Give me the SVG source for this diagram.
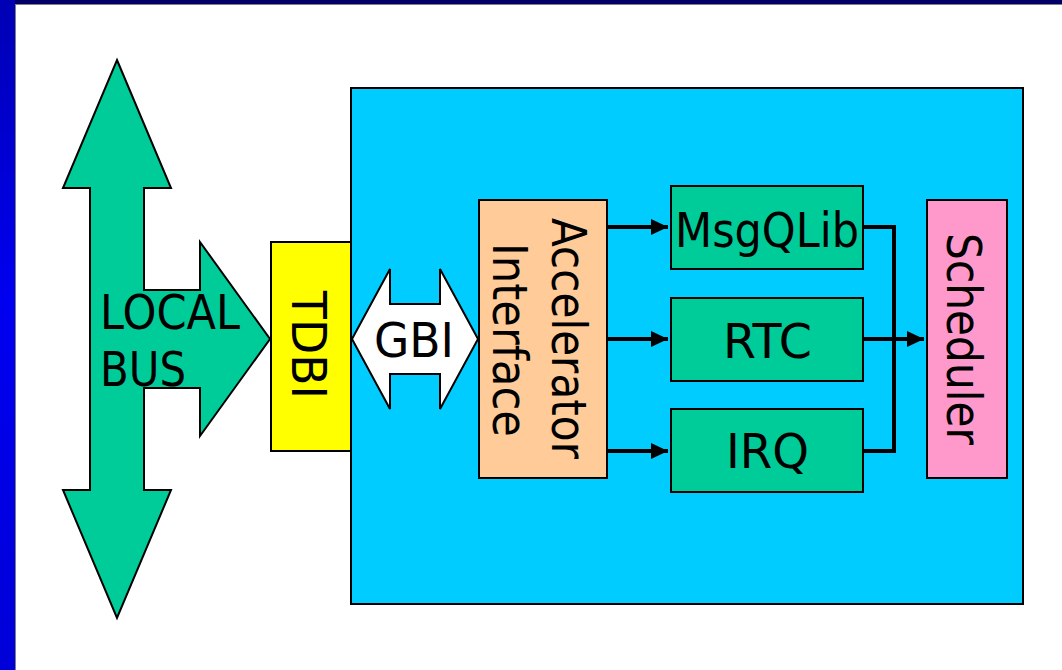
<svg xmlns="http://www.w3.org/2000/svg" width="1062" height="670" viewBox="0 0 1062 670">
<defs>
<linearGradient id="lb" x1="0" y1="0" x2="0" y2="1">
<stop offset="0" stop-color="#0000b4"/>
<stop offset="0.45" stop-color="#0000f0"/>
<stop offset="1" stop-color="#0000d8"/>
</linearGradient>
<marker id="ah" markerUnits="userSpaceOnUse" markerWidth="18" markerHeight="18" viewBox="0 0 18 18" refX="17" refY="9" orient="auto">
<path d="M0,1 L17,9 L0,17 Z" fill="#000"/>
</marker>
<style>
.lbl{font-family:"DejaVu Sans","Liberation Sans",sans-serif;font-size:48px;fill:#000}
.box{stroke:#000;stroke-width:2}
.shape{stroke:#000;stroke-width:2;stroke-linejoin:miter}
.conn{fill:none;stroke:#000;stroke-width:4}
</style>
</defs>
<rect x="0" y="0" width="1062" height="670" fill="#fff"/>
<rect x="0" y="0" width="1062" height="4" fill="#000066"/>
<rect x="0" y="0" width="15" height="670" fill="url(#lb)"/>
<line x1="15" y1="4.5" x2="1062" y2="4.5" stroke="#808080" stroke-width="1"/>
<line x1="15.5" y1="4.5" x2="15.5" y2="670" stroke="#808080" stroke-width="1"/>

<g id="fpga">
<rect class="box" x="351" y="88" width="672" height="516" fill="#00ccff"/>
</g>

<g id="local-bus">
<polygon class="shape" fill="#00cc99" points="117,60 171,188 144,188 144,290 200,290 200,242 270,339 200,436 200,388 144,388 144,490 171,490 117,618 63,490 90,490 90,188 63,188"/>
<text class="lbl" x="100" y="329" textLength="140" lengthAdjust="spacingAndGlyphs">LOCAL</text>
<text class="lbl" x="100" y="385.5" textLength="86" lengthAdjust="spacingAndGlyphs">BUS</text>
</g>

<g id="tdbi">
<rect class="box" x="271" y="242" width="80" height="209" fill="#ffff00"/>
<text class="lbl" text-anchor="middle" transform="translate(292,345) rotate(90)" textLength="108" lengthAdjust="spacingAndGlyphs">TDBI</text>
</g>

<g id="gbi">
<polygon class="shape" fill="#fff" points="352,339 390,269 390,304 440,304 440,269 478,339 440,409 440,374 390,374 390,409"/>
<text class="lbl" x="414" y="357" text-anchor="middle" textLength="80" lengthAdjust="spacingAndGlyphs">GBI</text>
</g>

<g id="accelerator-interface">
<rect class="box" x="479" y="200" width="128" height="278" fill="#ffcc99"/>
<text class="lbl" text-anchor="middle" transform="translate(552,338.5) rotate(90)" textLength="241" lengthAdjust="spacingAndGlyphs">Accelerator</text>
<text class="lbl" text-anchor="middle" transform="translate(493,340) rotate(90)" textLength="194" lengthAdjust="spacingAndGlyphs">Interface</text>
</g>

<g id="msgqlib">
<rect class="box" x="671" y="186" width="192" height="83" fill="#00cc99"/>
<text class="lbl" x="767" y="246.5" text-anchor="middle" textLength="184" lengthAdjust="spacingAndGlyphs">MsgQLib</text>
</g>

<g id="rtc">
<rect class="box" x="671" y="298" width="192" height="83" fill="#00cc99"/>
<text class="lbl" x="767.5" y="358" text-anchor="middle" textLength="89" lengthAdjust="spacingAndGlyphs">RTC</text>
</g>

<g id="irq">
<rect class="box" x="671" y="409" width="192" height="83" fill="#00cc99"/>
<text class="lbl" x="767.5" y="468" text-anchor="middle" textLength="83" lengthAdjust="spacingAndGlyphs">IRQ</text>
</g>

<g id="scheduler">
<rect class="box" x="927" y="200" width="80" height="278" fill="#ff99cc"/>
<text class="lbl" text-anchor="middle" transform="translate(947,339) rotate(90)" textLength="212" lengthAdjust="spacingAndGlyphs">Scheduler</text>
</g>

<g id="connectors">
<line class="conn" x1="607" y1="227" x2="668" y2="227" marker-end="url(#ah)"/>
<line class="conn" x1="607" y1="339" x2="668" y2="339" marker-end="url(#ah)"/>
<line class="conn" x1="607" y1="451" x2="668" y2="451" marker-end="url(#ah)"/>
<path class="conn" d="M863,227 H894 V451 H863"/>
<line class="conn" x1="863" y1="339" x2="924" y2="339" marker-end="url(#ah)"/>
</g>
</svg>
